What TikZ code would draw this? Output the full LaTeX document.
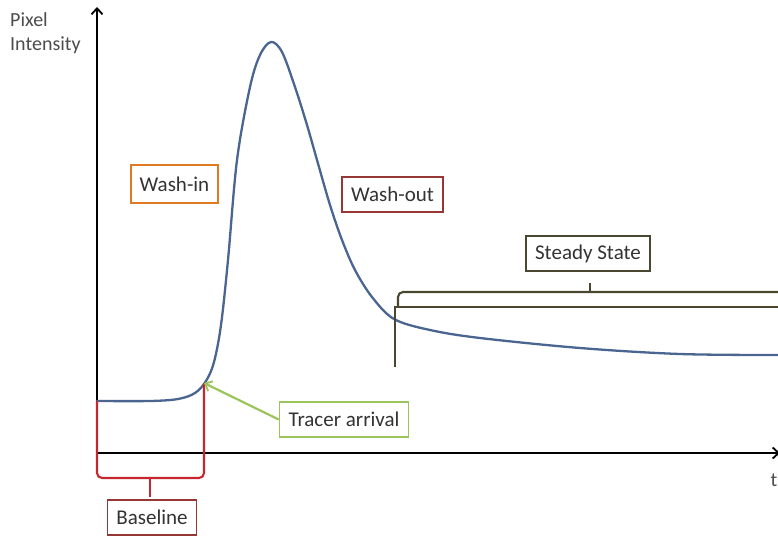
\documentclass[tikz,border=0pt]{standalone}
\usepackage{fontspec}
\setmainfont{Carlito}
\usetikzlibrary{arrows.meta}
\definecolor{curveblue}{HTML}{4A6590}
\definecolor{washin}{HTML}{E07B24}
\definecolor{darkred}{HTML}{953735}
\definecolor{brightred}{HTML}{C8262E}
\definecolor{tracergreen}{HTML}{9BC45A}
\definecolor{olive}{HTML}{4A4630}
\tikzset{
  axis/.style={line width=2.4pt, -{Straight Barb[length=6pt,width=11pt,line width=1.8pt]}},
  labelbox/.style={draw, line width=1.7pt, fill=white, font=\fontsize{21}{23}\selectfont,
    inner xsep=9pt, inner ysep=0pt, minimum height=35pt, text=black!80},
  bracket/.style={line width=2.1pt, rounded corners=5pt},
  plaintext/.style={font=\fontsize{20}{24}\selectfont, text=black!70, align=left}
}
\begin{document}
\begin{tikzpicture}[x=1pt,y=-1pt]
  \useasboundingbox (0,0) rectangle (778,535);

  % axes
  \coordinate (origin) at (97,453);
  \coordinate (ytop) at (97,7);
  \coordinate (xend) at (780,453);
  \draw[axis] (origin) -- (ytop);
  \draw[axis] (origin) -- (xend);
  \node[plaintext, anchor=north west, inner sep=0pt] (ylabel) at (10,12) {Pixel\\Intensity};
  \node[plaintext, anchor=north, inner sep=0pt] (tlabel) at (774,474) {t};

  % intensity curve
  \draw[curveblue, line width=2.3pt, line cap=round]
    plot[smooth, tension=0.55] coordinates {
      (97,401) (150,401) (178,399) (195,393) (206,381) (214,362)
      (221,325) (228,260) (237,160) (250,87) (260,55) (271,42)
      (282,52) (295,87) (307,125) (317,160) (330,205) (342,240)
      (355,270) (372,297) (394,319) (430,330) (480,338) (580,348)
      (680,354) (778,355)};

  % baseline bracket
  \coordinate (blL) at (97,401);
  \coordinate (blR) at (204,383);
  \coordinate (blTip) at (150,497);
  \draw[brightred, bracket] (blL) -- (97,478) -- (204,478) -- (blR);
  \draw[brightred, line width=2.1pt] (150,478) -- (blTip);
  \node[labelbox, draw=darkred, anchor=north] (baseline) at (152,499) {Baseline};

  % tracer arrival
  \node[labelbox, draw=tracergreen] (tracer) at (344,419.5) {Tracer arrival};
  \draw[tracergreen, line width=2.2pt, -{Straight Barb[length=6pt,width=11pt,line width=1.8pt]}]
    (tracer.west) -- (blR);

  % phase labels
  \node[labelbox, draw=washin, minimum height=38pt] (washin) at (174.5,184) {Wash-in};
  \node[labelbox, draw=darkred] (washout) at (392.5,194.5) {Wash-out};

  % steady state bracket
  \coordinate (ssBottom) at (395,367);
  \coordinate (ssTip) at (590,283);
  \draw[olive, line width=2.1pt] (ssBottom) -- (395,307) -- (780,307);
  \draw[olive, bracket] (398,307) -- (398,292) -- (780,292);
  \draw[olive, line width=2.1pt] (590,292) -- (ssTip);
  \node[labelbox, draw=olive, anchor=south] (steady) at (588,272) {Steady State};
\end{tikzpicture}
\end{document}
